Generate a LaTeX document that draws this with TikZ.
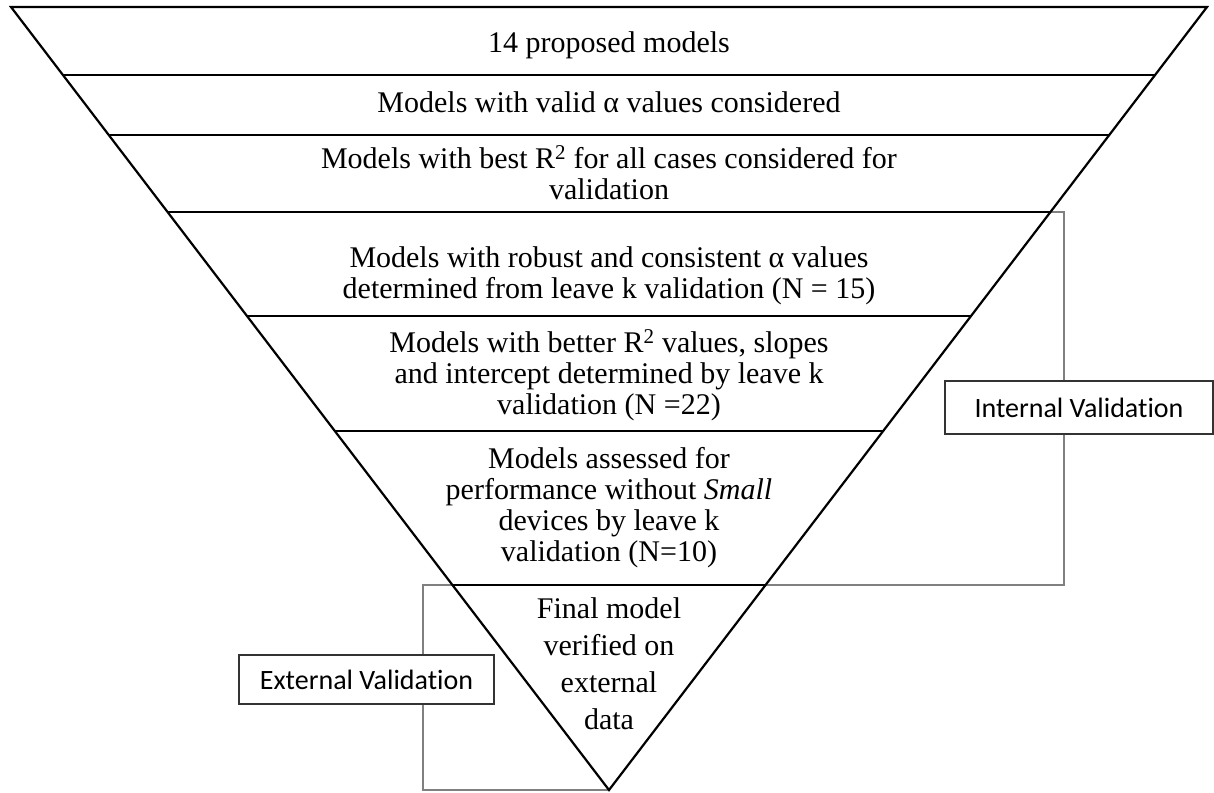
\documentclass[tikz,border=0pt]{standalone}
\usepackage{fontspec}
\setmainfont{Liberation Serif}
\newfontfamily\labelfont[Ligatures=NoCommon]{Carlito}
\usetikzlibrary{calc}
\newcommand\firstline{\rule{0pt}{27pt}}
\begin{document}
\begin{tikzpicture}[x=1pt,y=-1pt,
  edge/.style={line width=2.2pt, line join=miter},
  divider/.style={line width=2.2pt},
  bracket/.style={draw=black!50, line width=1.4pt},
  layer/.style={anchor=north, inner sep=0pt, align=center, font=\fontsize{30}{31}\selectfont},
  vlabel/.style={draw=black!80, fill=white, line width=1.2pt, font=\labelfont\fontsize{28}{30}\selectfont, inner sep=0pt}]
\useasboundingbox (0,0) rectangle (1214,792);
% triangle corners
\coordinate (tl) at (11,7);
\coordinate (tr) at (1207,7);
\coordinate (ap) at (609,790);
\foreach \n/\y in {a/75,b/135,c/212,d/316,e/431,f/585} {
  \pgfmathsetmacro\t{(\y-7)/783}
  \coordinate (\n L) at ($(tl)!\t!(ap)$);
  \coordinate (\n R) at ($(tr)!\t!(ap)$);
}
\coordinate (ix) at (1064,0);
\coordinate (ex) at (423,0);
% brackets
\draw[bracket] (cR) -- (cR -| ix) -- (fR -| ix) -- (fR);
\draw[bracket] (fL) -- (fL -| ex) -- (ap -| ex) -- (ap);
% funnel
\draw[edge] (tl) -- (tr) -- (ap) -- cycle;
\foreach \n in {a,b,c,d,e,f} { \draw[divider] (\n L) -- (\n R); }
% layer texts (north = first baseline - 27)
\node[layer] (l1) at (609,25) {\firstline 14 proposed models};
\node[layer] (l2) at (609,85) {\firstline Models with valid α values considered};
\node[layer] (l3) at (609,141) {\firstline Models with best R\textsuperscript{2} for all cases considered for\\validation};
\node[layer] (l4) at (609,240) {\firstline Models with robust and consistent α values\\determined from leave k validation (N = 15)};
\node[layer] (l5) at (609,325) {\firstline Models with better R\textsuperscript{2} values, slopes\\and intercept determined by leave k\\validation (N =22)};
\node[layer] (l6) at (609,441) {\firstline Models assessed for\\performance without \textit{Small}\\devices by leave k\\validation (N=10)};
\node[layer, font=\fontsize{30}{37}\selectfont] (l7) at (609,591) {\firstline Final model\\verified on\\external\\data};
% validation labels
\node[vlabel, minimum width=268pt, minimum height=53pt] (intv) at (1079,407.5) {Internal Validation};
\node[vlabel, minimum width=255pt, minimum height=49pt] (extv) at (366.5,679.5) {External Validation};
\end{tikzpicture}
\end{document}
